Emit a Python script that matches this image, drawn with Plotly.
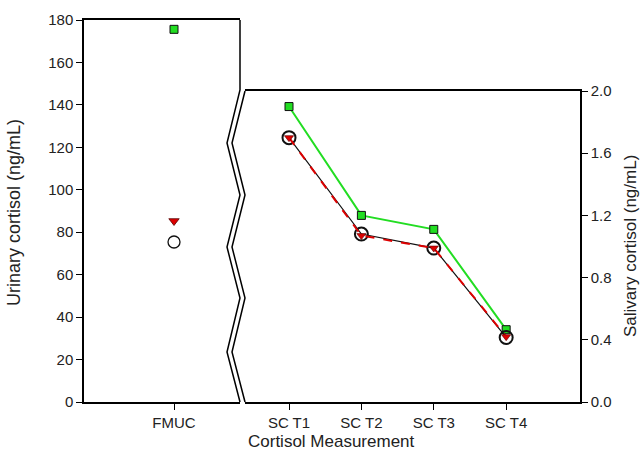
import plotly.graph_objects as go

# ---- data ----
urine_cat = ["FMUC"]
saliva_cat = ["SC T1", "SC T2", "SC T3", "SC T4"]

urine_green = [175.6]
urine_red = [85.3]
urine_circle = [75.4]

saliva_green = [1.90, 1.20, 1.11, 0.465]
saliva_red = [1.70, 1.07, 0.99, 0.42]
saliva_circle = [1.70, 1.08, 0.99, 0.415]

left_ticks = [0, 20, 40, 60, 80, 100, 120, 140, 160, 180]
right_ticks = [0.0, 0.4, 0.8, 1.2, 1.6, 2.0]

# ---- layout geometry (pixels) ----
W, H = 644, 457
L, R, T, B = 84, 580, 20, 402
PW, PH = R - L, B - T


def px(x):
    return (x - L) / PW


def py(y):
    return (B - y) / PH


GREEN = "#22dd22"
RED = "#dd0000"
FONT = "Liberation Sans, Arial, sans-serif"
TXT = "#222222"

fig = go.Figure()

# left panel
fig.add_trace(go.Scatter(x=urine_cat, y=urine_circle, xaxis="x", yaxis="y", mode="markers",
                         marker=dict(symbol="circle-open", size=12, color="#111111", line=dict(width=1.3)),
                         showlegend=False))
fig.add_trace(go.Scatter(x=urine_cat, y=urine_red, xaxis="x", yaxis="y", mode="markers",
                         marker=dict(symbol="triangle-down", size=9, color=RED, line=dict(width=0.8, color="#550000")),
                         showlegend=False))
fig.add_trace(go.Scatter(x=urine_cat, y=urine_green, xaxis="x", yaxis="y", mode="markers",
                         marker=dict(symbol="square", size=8, color=GREEN, line=dict(width=1, color="#111111")),
                         showlegend=False))

# right panel
fig.add_trace(go.Scatter(x=saliva_cat, y=saliva_green, xaxis="x2", yaxis="y2", mode="lines+markers",
                         line=dict(color=GREEN, width=2),
                         marker=dict(symbol="square", size=8, color=GREEN, line=dict(width=1, color="#111111")),
                         showlegend=False))
fig.add_trace(go.Scatter(x=saliva_cat, y=saliva_circle, xaxis="x2", yaxis="y2", mode="lines+markers",
                         line=dict(color="#111111", width=1.2),
                         marker=dict(symbol="circle-open", size=13, color="#111111", line=dict(width=2)),
                         showlegend=False))
fig.add_trace(go.Scatter(x=saliva_cat, y=saliva_red, xaxis="x2", yaxis="y2", mode="lines+markers",
                         line=dict(color=RED, width=2, dash="dash"),
                         marker=dict(symbol="triangle-down", size=8, color=RED, line=dict(width=0.6, color="#550000")),
                         showlegend=False))

axis_common = dict(showgrid=False, zeroline=False, showline=True, linecolor="black", linewidth=1.5,
                   ticks="outside", ticklen=6, tickcolor="black", tickwidth=1,
                   tickfont=dict(family=FONT, size=15, color=TXT))

# break shapes
zig1 = [(240, 20), (240, 90), (227, 143), (240, 195), (227, 247), (240, 298), (227, 352), (240, 402)]
zig2 = [(245, 91), (232, 143), (245, 195), (232, 247), (245, 298), (232, 352), (245, 402)]


def path(pts):
    return "M " + " L ".join(f"{px(a):.5f},{py(b):.5f}" for a, b in pts)


shapes = [dict(type="path", xref="paper", yref="paper", path=path(z),
               line=dict(color="black", width=1.5)) for z in (zig1, zig2)]

fig.update_layout(
    width=W, height=H,
    margin=dict(l=L, r=W - R, t=T, b=H - B),
    paper_bgcolor="white", plot_bgcolor="white",
    xaxis=dict(domain=[0, px(240)], anchor="y", type="category", categoryarray=urine_cat,
               range=[-1.154, 0.846], mirror=True, **axis_common),
    yaxis=dict(domain=[0, 1], anchor="x", range=[0, 180], tickvals=left_ticks, **axis_common),
    xaxis2=dict(domain=[px(245), 1], anchor="y2", type="category", categoryarray=saliva_cat,
                range=[-0.608, 4.02], mirror=True, **axis_common),
    yaxis2=dict(domain=[0, py(91)], anchor="x2", side="right", range=[0, 2.0],
                tickvals=right_ticks, tickformat=".1f", **axis_common),
    shapes=shapes,
    annotations=[
        dict(text="Urinary cortisol (ng/mL)", xref="paper", yref="paper", x=px(14), y=py(213),
             textangle=-90, showarrow=False, xanchor="center", yanchor="middle",
             font=dict(family=FONT, size=18, color=TXT)),
        dict(text="Salivary cortisol (ng/mL)", xref="paper", yref="paper", x=px(630), y=py(246),
             textangle=-90, showarrow=False, xanchor="center", yanchor="middle",
             font=dict(family=FONT, size=17, color=TXT)),
        dict(text="Cortisol Measurement", xref="paper", yref="paper", x=px(331), y=py(441),
             showarrow=False, xanchor="center", yanchor="middle",
             font=dict(family=FONT, size=17, color=TXT)),
    ],
)

fig.write_html("out.html", config={"displayModeBar": False},
               post_script="document.body.style.margin='0';document.body.style.padding='0';")
